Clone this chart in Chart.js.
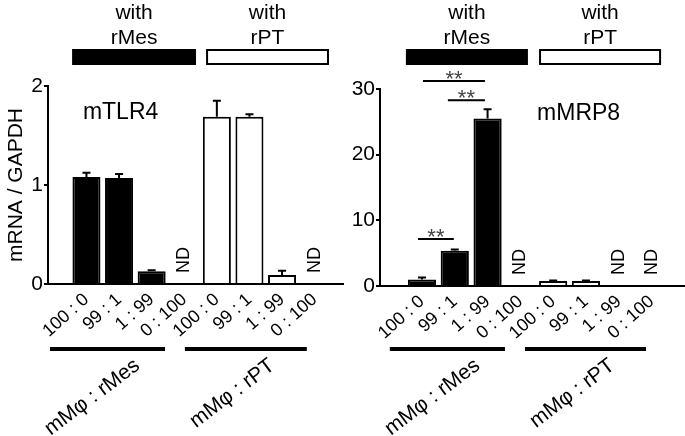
<!DOCTYPE html>
<html>
<head>
<meta charset="utf-8">
<script src="https://cdn.jsdelivr.net/npm/chart.js@4.4.1/dist/chart.umd.min.js"></script>
<style>
  body { margin: 0; background: #fff; }
  #wrap { position: relative; width: 685px; height: 436px; }
  canvas { position: absolute; top: 0; }
</style>
</head>
<body>
<div id="wrap">
  <canvas id="tlr4" width="345" height="436" style="left:0"></canvas>
  <canvas id="mrp8" width="340" height="436" style="left:345px"></canvas>
</div>
<script>
// x positions 1-4 = with rMes, 5-8 = with rPT
const ratioLabels = ['100 : 0', '99 : 1', '1 : 99', '0 : 100'];

const tlr4Mes = [1.08, 1.07, 0.13, null];
const tlr4MesErr = [0.045, 0.04, 0.01, null];
const tlr4PT = [1.69, 1.69, 0.09, null];
const tlr4PTErr = [0.16, 0.025, 0.045, null];

const mrp8Mes = [1.0, 5.35, 25.5, null];
const mrp8MesErr = [0.3, 0.2, 1.4, null];
const mrp8PT = [0.75, 0.75, null, null];
const mrp8PTErr = [0.08, 0.08, null, null];

const FONT = '"Liberation Sans", Arial, sans-serif';
const ROT = 37;      // group labels
const TICK_ROT = 42; // ratio labels
Chart.defaults.font.family = FONT;
Chart.defaults.color = '#000';

function pts(vals, start) {
  return vals.map((y, i) => ({x: start + i, y: y}));
}

// error bars, ND marks, header boxes, group labels, significance
const decor = {
  id: 'decor',
  afterDatasetsDraw(chart, args, o) {
    const ctx = chart.ctx, x = chart.scales.x, y = chart.scales.y;
    ctx.save();
    ctx.strokeStyle = '#000';
    ctx.fillStyle = '#000';
    ctx.lineWidth = 2;

    chart.data.datasets.forEach(ds => {
      ds.data.forEach((p, i) => {
        const e = ds.err[i];
        if (p.y == null || !e) return;
        const px = x.getPixelForValue(p.x);
        const y0 = y.getPixelForValue(p.y), y1 = y.getPixelForValue(p.y + e);
        ctx.beginPath();
        ctx.moveTo(px, y0); ctx.lineTo(px, y1);
        ctx.moveTo(px - 4, y1); ctx.lineTo(px + 4, y1);
        ctx.stroke();
      });
    });

    ctx.font = '18px ' + FONT;
    ctx.textAlign = 'center';
    ctx.textBaseline = 'middle';
    o.nd.forEach(v => {
      ctx.save();
      ctx.translate(x.getPixelForValue(v), y.bottom - 24);
      ctx.rotate(-Math.PI / 2);
      ctx.fillText('ND', 0, 0);
      ctx.restore();
    });

    ctx.font = '23px ' + FONT;
    ctx.textAlign = 'left';
    ctx.fillText(o.title.text, x.getPixelForValue(o.title.x), y.getPixelForValue(o.title.y));

    o.groups.forEach(g => {
      const a = x.getPixelForValue(g.from), b = x.getPixelForValue(g.to);
      ctx.fillStyle = g.fill;
      ctx.fillRect(a, 50, b - a, 14);
      ctx.lineWidth = 2;
      ctx.strokeRect(a, 50, b - a, 14);
      ctx.fillStyle = '#000';
      ctx.font = '21px ' + FONT;
      ctx.textAlign = 'center';
      ctx.textBaseline = 'middle';
      ctx.fillText('with', (a + b) / 2, 13);
      ctx.fillText(g.name, (a + b) / 2, 38);

      ctx.lineWidth = 4;
      ctx.beginPath();
      ctx.moveTo(x.getPixelForValue(g.line[0]), 349);
      ctx.lineTo(x.getPixelForValue(g.line[1]), 349);
      ctx.stroke();

      ctx.save();
      ctx.translate(x.getPixelForValue(g.label), 368);
      ctx.rotate(-ROT * Math.PI / 180);
      ctx.textAlign = 'right';
      ctx.textBaseline = 'alphabetic';
      ctx.fillText('mMφ : ' + g.name, 0, 0);
      ctx.restore();
    });

    (o.sig || []).forEach(s => {
      const a = x.getPixelForValue(s.from), b = x.getPixelForValue(s.to);
      const py = y.getPixelForValue(s.y);
      ctx.lineWidth = 2;
      ctx.strokeStyle = '#000';
      ctx.beginPath();
      ctx.moveTo(a, py); ctx.lineTo(b, py);
      ctx.stroke();
      ctx.fillStyle = '#444';
      ctx.font = '22px ' + FONT;
      ctx.textAlign = 'center';
      ctx.textBaseline = 'alphabetic';
      ctx.fillText('**', (a + b) / 2, py + 5);
      ctx.fillStyle = '#000';
    });
    ctx.restore();
  }
};

function makeChart(id, mes, mesErr, pt, ptErr, y, xr, box, deco) {
  new Chart(document.getElementById(id), {
    type: 'bar',
    data: {
      datasets: [
        {data: pts(mes, 1), err: mesErr, backgroundColor: '#000', borderColor: '#000', borderWidth: 2, grouped: false},
        {data: pts(pt, 5), err: ptErr, backgroundColor: '#fff', borderColor: '#000', borderWidth: 2, grouped: false}
      ]
    },
    options: {
      responsive: false,
      animation: false,
      devicePixelRatio: 1,
      layout: {padding: {top: box.top, right: box.right, left: 0, bottom: 0}},
      datasets: {bar: {barPercentage: 0.86, categoryPercentage: 1}},
      plugins: {legend: {display: false}, tooltip: {enabled: false}, decor: deco},
      scales: {
        x: {
          type: 'linear',
          offset: false,
          min: xr[0], max: xr[1],
          afterBuildTicks: s => { s.ticks = [1, 2, 3, 4, 5, 6, 7, 8].map(v => ({value: v})); },
          afterFit: s => { s.height = box.xHeight; },
          grid: {display: false, drawTicks: false},
          border: {display: true, color: '#000', width: 2},
          ticks: {
            autoSkip: false, minRotation: TICK_ROT, maxRotation: TICK_ROT, padding: 5,
            font: {size: 18},
            callback: v => ratioLabels[(v - 1) % 4]
          }
        },
        y: {
          min: 0, max: y.max,
          afterFit: s => { s.width = box.yWidth; },
          grid: {drawOnChartArea: false, drawTicks: true, tickLength: 4, color: '#000', lineWidth: 2},
          border: {display: true, color: '#000', width: 2},
          ticks: {stepSize: y.step, padding: 1, font: {size: 21}},
          title: {display: !!y.title, text: y.title, font: {size: 21}, padding: {top: 4, bottom: 0}}
        }
      }
    },
    plugins: [decor]
  });
}

makeChart('tlr4', tlr4Mes, tlr4MesErr, tlr4PT, tlr4PTErr,
  {max: 2, step: 1, title: 'mRNA / GAPDH'},
  [-0.18, 8.87],
  {top: 86, right: 2, xHeight: 152, yWidth: 48},
  {
    nd: [4, 8],
    title: {text: 'mTLR4', x: 0.89, y: 1.73},
    groups: [
      {name: 'rMes', fill: '#000', from: 0.59, to: 4.33, line: [-0.12, 3.41], label: 2.67},
      {name: 'rPT', fill: '#fff', from: 4.70, to: 8.41, line: [4.02, 7.76], label: 6.81}
    ]
  });

makeChart('mrp8', mrp8Mes, mrp8MesErr, mrp8PT, mrp8PTErr,
  {max: 30, step: 10, title: ''},
  [-0.28, 9.02],
  {top: 89, right: 0, xHeight: 150, yWidth: 35},
  {
    nd: [4, 7, 8],
    title: {text: 'mMRP8', x: 4.51, y: 26.3},
    groups: [
      {name: 'rMes', fill: '#000', from: 0.54, to: 4.2, line: [0.02, 3.53], label: 2.8},
      {name: 'rPT', fill: '#fff', from: 4.6, to: 8.26, line: [4.14, 7.83], label: 6.91}
    ],
    sig: [
      {from: 1.03, to: 2.92, y: 31.2},
      {from: 1.79, to: 2.92, y: 28.3},
      {from: 0.88, to: 1.97, y: 7.15}
    ]
  });
</script>
</body>
</html>
